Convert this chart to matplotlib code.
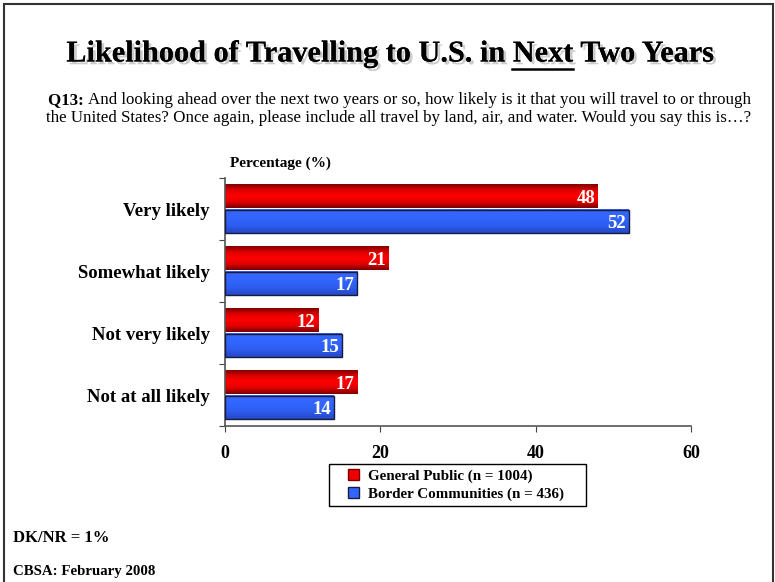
import numpy as np
import matplotlib.pyplot as plt
import matplotlib.patheffects as pe
from matplotlib.colors import LinearSegmentedColormap
from matplotlib.patches import Rectangle

plt.rcParams['font.family'] = 'Liberation Serif'

categories = ['Very likely', 'Somewhat likely', 'Not very likely', 'Not at all likely']
general_public = [48, 21, 12, 17]
border_communities = [52, 17, 15, 14]
series_names = ['General Public (n = 1004)', 'Border Communities (n = 436)']
xticks = [0, 20, 40, 60]

red_cmap = LinearSegmentedColormap.from_list('redbar', ['#7a0000', '#e00000', '#ff0000', '#e00000', '#800000'])
blue_cmap = LinearSegmentedColormap.from_list('bluebar', ['#2448c8', '#2e5ef0', '#3366ff', '#3366ff'])

W, H = 775, 582
fig = plt.figure(figsize=(W / 100, H / 100), dpi=100)
ax = fig.add_axes([225 / W, 1 - 426 / H, 466 / W, 248 / H])

h = 0.38
grad = np.linspace(0, 1, 64).reshape(-1, 1)

def gradient_bar(ax, y, w, cmap, edge):
    # vertical gradient fill clipped to the bar rectangle
    ax.imshow(grad, cmap=cmap, aspect='auto', extent=[0, w, y - h / 2, y + h / 2],
              origin='upper', zorder=2, interpolation='bilinear')
    if edge:
        ax.add_patch(Rectangle((0, y - h / 2), w, h, fill=False, ec='#1a1a40', lw=1.0, zorder=3))

for i, (g, b) in enumerate(zip(general_public, border_communities)):
    yr, yb = i - 0.2, i + 0.2
    gradient_bar(ax, yr, g, red_cmap, False)
    gradient_bar(ax, yb, b, blue_cmap, True)
    ax.text(g - 0.35, yr + 0.03, str(g), ha='right', va='center', color='white',
            fontsize=13.5, fontweight='bold', zorder=4)
    ax.text(b - 0.35, yb + 0.03, str(b), ha='right', va='center', color='white',
            fontsize=13.5, fontweight='bold', zorder=4)

ax.set_xlim(0, 60)
ax.set_ylim(3.5, -0.5)
ax.set_xticks(xticks)
ax.set_xticklabels([str(t) for t in xticks], fontsize=13, fontweight='bold')
ax.set_yticks(np.arange(-0.5, 4, 1))
ax.set_yticklabels([])
ax.set_yticks(np.arange(len(categories)), minor=True)
ax.set_yticklabels(categories, minor=True, fontsize=13.5, fontweight='bold')
ax.tick_params(axis='y', which='minor', length=0, pad=11)
ax.tick_params(axis='y', which='major', length=4, color='#444444', direction='out')
ax.tick_params(axis='x', length=4, color='#444444', pad=10)
for s in ['top', 'right']:
    ax.spines[s].set_visible(False)
for s in ['left', 'bottom']:
    ax.spines[s].set_color('#555555')
    ax.spines[s].set_linewidth(1.2)

# legend, with its box drawn separately so it can be wider than the entries
handles = [Rectangle((0, 0), 1, 1, fc='#ee0000', ec='#7a0000'),
           Rectangle((0, 0), 1, 1, fc='#3366ff', ec='#1a1a40')]
fig.legend(handles, series_names, loc='center left', bbox_to_anchor=(348 / W, 1 - 485 / H),
           prop={'family': 'Liberation Serif', 'weight': 'bold', 'size': 10.8},
           frameon=False, handlelength=0.7, handleheight=0.7, handletextpad=0.6,
           borderpad=0, labelspacing=0.3, borderaxespad=0)
fig.add_artist(Rectangle((329 / W, 1 - 506 / H), 257 / W, 42 / H, transform=fig.transFigure,
                         fill=False, ec='black', lw=1.0))

fig.text(230 / W, 1 - 163 / H, 'Percentage (%)', fontsize=11, fontweight='bold',
         ha='left', va='center')

# title with drop shadow and underlined "Next"
fig.canvas.draw()
renderer = fig.canvas.get_renderer()
title = 'Likelihood of Travelling to U.S. in Next Two Years'
tfs = 21.8
t = fig.text(390 / W, 1 - 54 / H, title, ha='center', va='center', fontsize=tfs, fontweight='bold',
             path_effects=[pe.withSimplePatchShadow(offset=(2, -2), shadow_rgbFace='#aaaaaa', alpha=0.6),
                           pe.Normal()])
bb = t.get_window_extent(renderer)
pre = fig.text(0, 0, 'Likelihood of Travelling to U.S. in ', fontsize=tfs, fontweight='bold')
pre_w = pre.get_window_extent(renderer).width
nxt = fig.text(0, 0, 'Next', fontsize=tfs, fontweight='bold')
nxt_w = nxt.get_window_extent(renderer).width
pre.remove()
nxt.remove()
x0 = (bb.x0 + pre_w) / fig.bbox.width
x1 = (bb.x0 + pre_w + nxt_w) / fig.bbox.width
uy = 1 - 69 / H
fig.add_artist(plt.Line2D([x0, x1], [uy, uy], color='black', lw=1.8))

# question text, first line starts with a bold label
def mixed_line(y, parts, cx, fs=12.2):
    widths = []
    for s, w in parts:
        tmp = fig.text(0, 0, s, fontsize=fs, fontweight=w)
        widths.append(tmp.get_window_extent(renderer).width)
        tmp.remove()
    x = cx - sum(widths) / 2
    for (s, w), wd in zip(parts, widths):
        fig.text(x / fig.bbox.width, y, s, fontsize=fs, fontweight=w, ha='left', va='center')
        x += wd

mixed_line(1 - 100 / H, [('Q13: ', 'bold'),
           ('And looking ahead over the next two years or so, how likely is it that you will travel to or through', 'normal')], 400)
mixed_line(1 - 118 / H, [('the United States? Once again, please include all travel by land, air, and water. Would you say this is\u2026?', 'normal')], 399)

fig.text(13 / W, 1 - 538 / H, 'DK/NR = 1%', fontsize=12, fontweight='bold', va='center')
fig.text(13 / W, 1 - 571 / H, 'CBSA: February 2008', fontsize=10.7, fontweight='bold', va='center')

# frame around the slide
fig.add_artist(Rectangle((4 / W, -0.01), 769 / W, 1 - 4 / H + 0.01, transform=fig.transFigure,
                         fill=False, ec='#333333', lw=1.5))

fig.savefig('out.png', dpi=100)
